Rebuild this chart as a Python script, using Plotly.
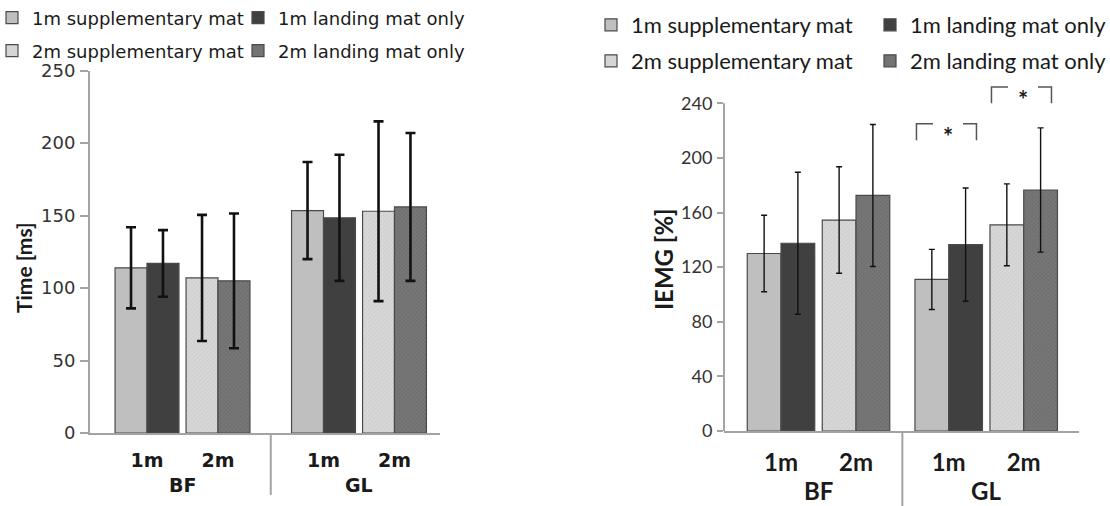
import plotly.graph_objects as go

# ---------------- data ----------------
muscles = ["BF", "GL"]
heights = ["1m", "2m"]
conditions = ["supplementary mat", "landing mat only"]
y_ticks_time = [0, 50, 100, 150, 200, 250]
y_ticks_iemg = [0, 40, 80, 120, 160, 200, 240]

# Left panel: Time [ms]  (values for BF, GL)
time_1m_supp = [114, 153.5]
time_1m_supp_sd = [28, 33.5]
time_1m_land = [117, 148.5]
time_1m_land_sd = [23, 43.5]
time_2m_supp = [107, 153]
time_2m_supp_sd = [43.5, 62]
time_2m_land = [105, 156]
time_2m_land_sd = [46.5, 51]

# Right panel: IEMG [%]  (values for BF, GL)
iemg_1m_supp = [130, 111]
iemg_1m_supp_sd = [28, 22]
iemg_1m_land = [137.5, 136.5]
iemg_1m_land_sd = [52, 41.5]
iemg_2m_supp = [154.5, 151]
iemg_2m_supp_sd = [39, 30]
iemg_2m_land = [172.5, 176.5]
iemg_2m_land_sd = [52, 45.5]

# significance brackets on the right panel (muscle, height)
sig_pairs = [("GL", "1m"), ("GL", "2m")]
sig_top = [225, 252]

# ---------------- styles ----------------
W, H = 1110, 506
fills = {
    ("1m", "supplementary mat"): dict(color="#bfbfbf"),
    ("1m", "landing mat only"): dict(color="#404040"),
    ("2m", "supplementary mat"): dict(color="#d8d8d8",
                                      pattern=dict(shape="/", size=3, solidity=0.35,
                                                   fgcolor="#c2c2c2", bgcolor="#d8d8d8")),
    ("2m", "landing mat only"): dict(color="#727272",
                                     pattern=dict(shape="x", size=3, solidity=0.35,
                                                  fgcolor="#5c5c5c", bgcolor="#777777")),
}
axis_gray = "#a3a3a3"
txt = "#1a1a1a"

panels = [
    dict(name="time",
         vals={("1m", "supplementary mat"): (time_1m_supp, time_1m_supp_sd),
               ("1m", "landing mat only"): (time_1m_land, time_1m_land_sd),
               ("2m", "supplementary mat"): (time_2m_supp, time_2m_supp_sd),
               ("2m", "landing mat only"): (time_2m_land, time_2m_land_sd)},
         step=2.486, xaxis="x", yaxis="y", legends=["legend", "legend2"],
         err=dict(thickness=2.6, width=5, color="#111111")),
    dict(name="iemg",
         vals={("1m", "supplementary mat"): (iemg_1m_supp, iemg_1m_supp_sd),
               ("1m", "landing mat only"): (iemg_1m_land, iemg_1m_land_sd),
               ("2m", "supplementary mat"): (iemg_2m_supp, iemg_2m_supp_sd),
               ("2m", "landing mat only"): (iemg_2m_land, iemg_2m_land_sd)},
         step=2.236, xaxis="x2", yaxis="y2", legends=["legend3", "legend4"],
         err=dict(thickness=1.4, width=3, color="#111111")),
]


def pos(step, mi, hi):
    return mi * step + hi


fig = go.Figure()
for p in panels:
    for hi, h in enumerate(heights):
        for cond in conditions:
            vals, sd = p["vals"][(h, cond)]
            fig.add_trace(go.Bar(
                x=[pos(p["step"], mi, hi) for mi in range(len(muscles))],
                y=vals,
                name=f"{h} {cond}",
                offsetgroup=cond,
                xaxis=p["xaxis"], yaxis=p["yaxis"],
                legend=p["legends"][hi],
                marker=dict(**fills[(h, cond)], line=dict(color="#4a4a4a", width=1.2)),
                error_y=dict(type="data", array=sd, visible=True, **p["err"]),
            ))

left_font = "DejaVu Sans"
right_font = "Lato"

fig.update_layout(
    width=W, height=H,
    margin=dict(l=0, r=0, t=0, b=0, autoexpand=False),
    paper_bgcolor="white", plot_bgcolor="rgba(0,0,0,0)",
    barmode="group", bargap=0.1, bargroupgap=0,
    showlegend=True,
    xaxis=dict(domain=[90 / W, 440 / W], range=[-0.803, 4.127],
               tickvals=[pos(2.486, mi, hi) for mi in range(2) for hi in range(2)],
               ticktext=[h for _ in muscles for h in heights],
               tickfont=dict(family=left_font, size=19, color=txt, weight="bold"),
               ticks="", ticklabelstandoff=9, showgrid=False, zeroline=False,
               showline=True, linecolor=axis_gray, linewidth=2),
    yaxis=dict(domain=[(H - 433) / H, (H - 70.7) / H], range=[0, 250],
               tickvals=y_ticks_time, ticks="outside", ticklen=8, tickwidth=1.5,
               tickcolor=axis_gray, tickfont=dict(family=left_font, size=18, color="#333333"),
               ticklabelstandoff=1, showgrid=False, zeroline=False,
               showline=True, linecolor=axis_gray, linewidth=2),
    xaxis2=dict(domain=[724 / W, 1079 / W], range=[-0.76, 3.973], anchor="y2",
                tickvals=[pos(2.236, mi, hi) for mi in range(2) for hi in range(2)],
                ticktext=[h for _ in muscles for h in heights],
                tickfont=dict(family=right_font, size=24, color=txt, weight="bold"),
                ticks="", ticklabelstandoff=9, showgrid=False, zeroline=False,
                showline=True, linecolor=axis_gray, linewidth=2),
    yaxis2=dict(domain=[75 / H, (H - 78.7) / H], range=[0, 258], anchor="x2",
                tickvals=y_ticks_iemg, ticks="outside", ticklen=6, tickwidth=1.5,
                tickcolor=axis_gray, tickfont=dict(family=right_font, size=18, color="#333333"),
                ticklabelstandoff=1, showgrid=False, zeroline=False, showline=False),
)

legend_common = dict(orientation="h", yanchor="middle", xanchor="left",
                     bgcolor="rgba(0,0,0,0)", traceorder="normal", tracegroupgap=0)
fig.update_layout(
    legend=dict(x=-8 / W, y=(H - 18) / H, entrywidth=201,
                font=dict(family=left_font, size=18, color=txt), **legend_common),
    legend2=dict(x=-8 / W, y=(H - 51) / H, entrywidth=201,
                 font=dict(family=left_font, size=18, color=txt), **legend_common),
    legend3=dict(x=591 / W, y=(H - 25) / H, entrywidth=234,
                 font=dict(family=right_font, size=22, color=txt), **legend_common),
    legend4=dict(x=591 / W, y=(H - 61) / H, entrywidth=234,
                 font=dict(family=right_font, size=22, color=txt), **legend_common),
)

# right y-axis line only up to 240
fig.add_shape(type="line", xref="x2 domain", yref="y2", x0=0, x1=0,
              y0=0, y1=max(y_ticks_iemg), line=dict(color=axis_gray, width=2))

# group dividers and group labels
for p, div_len, lab_y, fnt, fsize in [(panels[0], 0.171, 485, left_font, 19),
                                        (panels[1], 0.215, 490, right_font, 24)]:
    step = p["step"]
    mid = (pos(step, 0, 1) + pos(step, 1, 0)) / 2
    fig.add_shape(type="line", xref=p["xaxis"], yref=p["yaxis"] + " domain",
                  x0=mid, x1=mid, y0=0, y1=-div_len,
                  line=dict(color=axis_gray, width=2))
    for mi, m in enumerate(muscles):
        cx = (pos(step, mi, 0) + pos(step, mi, 1)) / 2
        fig.add_annotation(x=cx, xref=p["xaxis"], y=(H - lab_y) / H, yref="paper",
                           text=f"<b>{m}</b>", showarrow=False, yanchor="middle",
                           xanchor="center",
                           font=dict(family=fnt, size=fsize, color=txt))

# axis titles
fig.add_annotation(x=23 / W, y=(H - 268) / H, xref="paper", yref="paper",
                   text="<b>Time [ms]</b>", textangle=-90, showarrow=False,
                   xanchor="center", yanchor="middle",
                   font=dict(family=right_font, size=21, color=txt))
fig.add_annotation(x=664 / W, y=(H - 259) / H, xref="paper", yref="paper",
                   text="<b>IEMG [%]</b>", textangle=-90, showarrow=False,
                   xanchor="center", yanchor="middle",
                   font=dict(family=right_font, size=24, color=txt))

# significance brackets
step = panels[1]["step"]
for (m, h), top in zip(sig_pairs, sig_top):
    c = pos(step, muscles.index(m), heights.index(h))
    x0, x1 = c - 0.43, c + 0.37
    ga, gb = c - 0.21, c + 0.19
    bot = top - 12
    fig.add_shape(type="path", xref="x2", yref="y2",
                  path=f"M {x0},{bot} L {x0},{top} L {ga},{top} M {gb},{top} L {x1},{top} L {x1},{bot}",
                  line=dict(color="#555555", width=1.5))
    fig.add_annotation(x=(ga + gb) / 2, y=top, xref="x2", yref="y2", text="<b>*</b>",
                       showarrow=False, yanchor="middle", xanchor="center", yshift=-13,
                       font=dict(family=right_font, size=24, color=txt))

fig.write_html("out.html", config={"displayModeBar": False},
               post_script="document.body.style.margin='0px';document.body.style.overflow='hidden';")
